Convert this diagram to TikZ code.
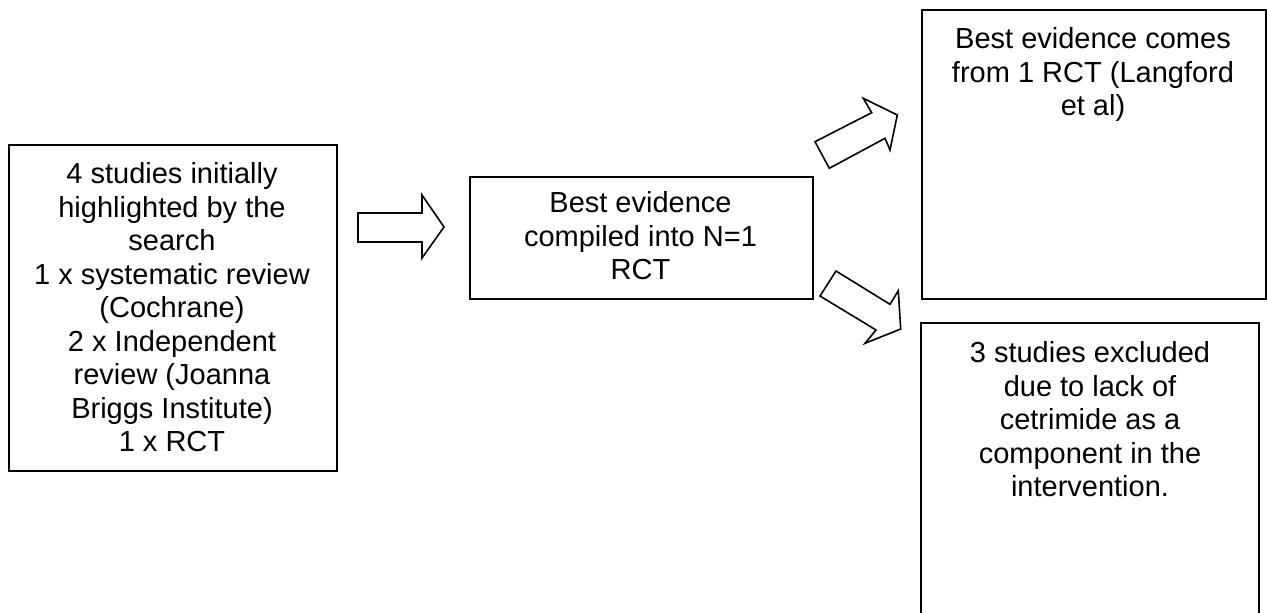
\documentclass[tikz,border=0pt]{standalone}
\usepackage{fontspec}
\setmainfont{Liberation Sans}
\begin{document}
\begin{tikzpicture}[x=1pt,y=-1pt,
  boxline/.style={draw=black, line width=1.8pt},
  boxtxt/.style={anchor=north, inner sep=0pt, align=center,
    font=\fontsize{29}{33.5}\selectfont},
  blockarrow/.style={draw=black, line width=1.6pt, fill=white, line join=miter}]
\useasboundingbox (0,0) rectangle (1267,613);
\clip (0,0) rectangle (1267,613);
% boxes
\node[boxline, inner sep=0pt, minimum width=328pt, minimum height=326pt, anchor=north west] (b1) at (8,144) {};
\node[boxline, inner sep=0pt, minimum width=343pt, minimum height=122pt, anchor=north west] (b2) at (469,176) {};
\node[boxline, inner sep=0pt, minimum width=344pt, minimum height=289pt, anchor=north west] (b3) at (921,9) {};
\coordinate (b4a) at (921,640);
\coordinate (b4b) at (921,323);
\coordinate (b4c) at (1259,323);
\coordinate (b4d) at (1259,640);
\draw[boxline] (b4a) -- (b4b) -- (b4c) -- (b4d);
% texts
\node[boxtxt] (t1) at (172,160) {\strut 4 studies initially\\highlighted by the\\search\\1 x systematic review\\(Cochrane)\\2 x Independent\\review (Joanna\\Briggs Institute)\\1 x RCT};
\node[boxtxt] (t2) at (640.5,189) {\strut Best evidence\\compiled into N=1\\RCT};
\node[boxtxt] (t3) at (1093,25) {\strut Best evidence comes\\from 1 RCT (Langford\\et al)};
\node[boxtxt] (t4) at (1090,339) {\strut 3 studies excluded\\due to lack of\\cetrimide as a\\component in the\\intervention.};
% block arrows
\draw[blockarrow] (358,213) -- (422,213) -- (422,195) -- (444,227) -- (422,258) -- (422,242) -- (358,242) -- cycle;
\draw[blockarrow] (829.3,168.3) -- (815,141.7) -- (871.7,112.7) -- (863.3,98.3) -- (897.3,115) -- (890,150) -- (885,138.3) -- cycle;
\draw[blockarrow] (836,271) -- (820,296) -- (876,330) -- (865,343.3) -- (900.7,329) -- (898.3,290.7) -- (890,304.3) -- cycle;
\end{tikzpicture}
\end{document}
